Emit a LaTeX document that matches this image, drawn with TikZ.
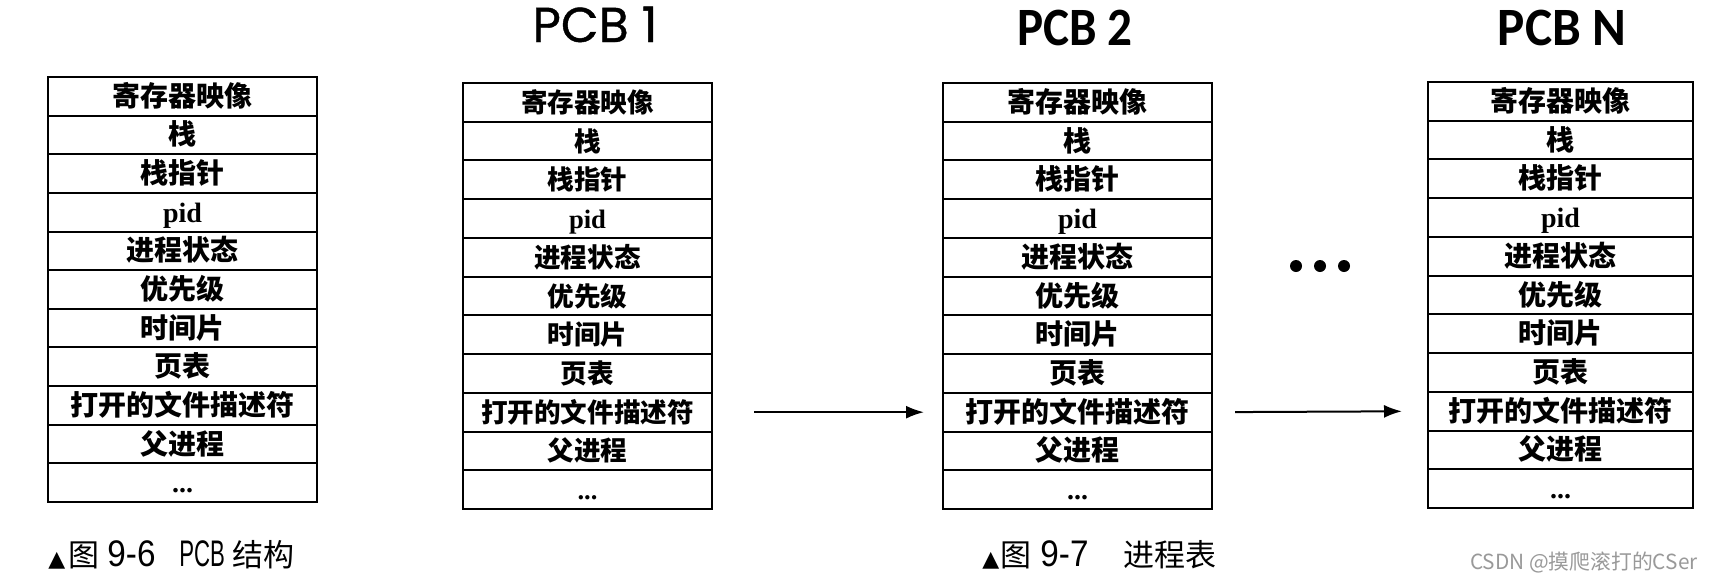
\documentclass[tikz,border=0pt]{standalone}
\usepackage{fontspec}
\newfontfamily\cjk{Noto Sans CJK SC}
\newfontfamily\lserif{Liberation Serif}
\newfontfamily\lsans{Liberation Sans}
\newfontfamily\popp{Poppins}[FakeBold=0.8]
\newfontfamily\carl{Carlito}
\newfontfamily\dejavu{DejaVu Sans}
\usetikzlibrary{arrows.meta}

\newcommand\tdots{...}

\tikzset{
  cell/.style={draw, line width=1pt, inner sep=0pt, outer sep=0pt,
    text height=12pt, text depth=2pt, anchor=north west},
  pcbtitle/.style={anchor=base, inner sep=0pt},
  capt/.style={font=\cjk\fontsize{15.5pt}{15.5pt}\selectfont, anchor=base west, inner sep=0pt},
  arr/.style={line width=1pt, -{Latex[length=9pt,width=6.5pt]}},
  dotc/.style={circle, fill, inner sep=0pt, minimum size=6pt},
  wmark/.style={font=\cjk\fontsize{10.4pt}{10.4pt}\selectfont, text=black!40, anchor=base east, inner sep=0pt},
}

% #1 name, #2 left, #3 right, #4 top, #5 bottom, #6 font size (pt)
\newcommand\pcbtab[6]{%
  \pgfmathsetmacro\rowh{(#5-#4)/11}%
  \pgfmathsetmacro\rowhpt{(#5-#4)/22}%
  \pgfmathsetmacro\colwpt{(#3-#2)/2}%
  \foreach \t [count=\i] in {寄存器映像,栈,栈指针,{\lserif pid},进程状态,优先级,时间片,页表,打开的文件描述符,父进程,{\lserif\tdots}} {
    \node[cell, font=\cjk\bfseries\fontsize{#6pt}{#6pt}\selectfont,
      minimum width=\colwpt pt, minimum height=\rowhpt pt]
      (#1-\i) at (#2, {#4+(\i-1)*\rowh}) {\t};
  }%
}
\newcommand\lat[2]{\scalebox{#1}[1]{\lsans\fontsize{18.5pt}{18.5pt}\selectfont #2}}
\newcommand\tri{{\dejavu\fontsize{11pt}{11pt}\selectfont ▲}}

\begin{document}
\begin{tikzpicture}[x=0.5pt,y=-0.5pt]
\useasboundingbox[fill=white] (0,0) rectangle (1714,579);

\pcbtab{ta}{48}{317}{77}{502}{14}
\pcbtab{tb}{463}{712}{83}{509}{13.3}
\pcbtab{tc}{943}{1212}{83}{509}{14}
\pcbtab{td}{1428}{1693}{82}{508}{14}

\node[pcbtitle, font=\popp\fontsize{24.5pt}{24.5pt}\selectfont] (p1) at (595,42) {PCB 1};
\node[pcbtitle, font=\carl\bfseries\fontsize{27pt}{27pt}\selectfont] (p2) at (1075,45) {\scalebox{0.91}[1]{PCB 2}};
\node[pcbtitle, font=\carl\bfseries\fontsize{27pt}{27pt}\selectfont] (pn) at (1562,45) {\scalebox{0.95}[1]{PCB N}};

\draw[arr, shorten <=21pt, shorten >=9.5pt] (tb-9.east) -- (tc-9.west);
\draw[arr, shorten <=11.5pt, shorten >=13pt] (tc-9.east) -- (td-9.west);

\node[dotc] (d1) at (1296,266) {};
\node[dotc] (d2) at (1320,266) {};
\node[dotc] (d3) at (1344,266) {};

\node[capt] (c1) at (48,566) {\makebox[10pt][l]{\tri}\makebox[19.5pt][l]{图}\makebox[36pt][l]{\lat{0.9}{9-6}}\makebox[26.5pt][l]{\lat{0.6}{PCB}}结构};
\node[capt] (c2) at (982,566) {\makebox[9pt][l]{\tri}\makebox[20pt][l]{图}\makebox[41.5pt][l]{\lat{0.9}{9-7}}进程表};

\node[wmark] (wm) at (1698,569) {CSDN @摸爬滚打的CSer};
\end{tikzpicture}
\end{document}
